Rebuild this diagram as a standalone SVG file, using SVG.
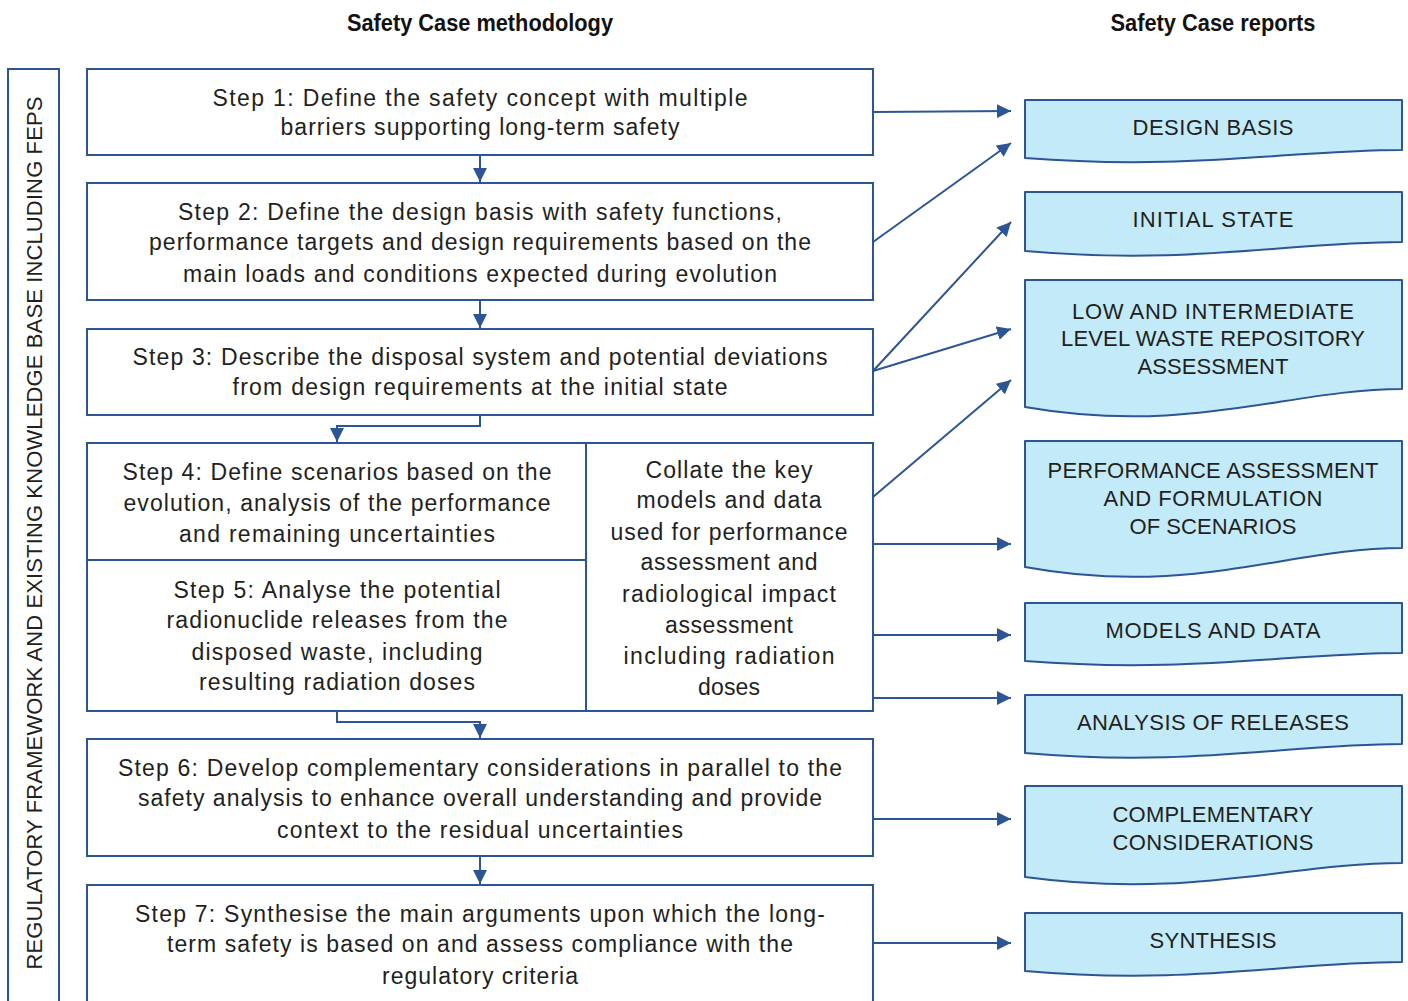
<svg xmlns="http://www.w3.org/2000/svg" width="1408" height="1001" viewBox="0 0 1408 1001">
  <defs>
    <style>
      .box { fill: #ffffff; stroke: #2c5595; stroke-width: 2; }
      .doc { fill: #c2eaf9; stroke: #2c5595; stroke-width: 2; stroke-linejoin: round; }
      .ln { fill: none; stroke: #2c5595; stroke-width: 2; }
      .arr { fill: none; stroke: #2c5595; stroke-width: 2; marker-end: url(#head); }
      .t { font-family: "Liberation Sans", Arial, sans-serif; font-size: 23px; fill: #231f20; text-anchor: middle; }
      .d { font-family: "Liberation Sans", Arial, sans-serif; font-size: 22px; fill: #231f20; text-anchor: middle; }
      .h { font-family: "Liberation Sans Narrow", "Liberation Sans", Arial, sans-serif; font-size: 23px; font-weight: bold; fill: #111111; text-anchor: middle; }
    </style>
    <marker id="head" viewBox="0 0 14 14" markerWidth="14" markerHeight="14" refX="14" refY="7" orient="auto" markerUnits="userSpaceOnUse">
      <path d="M0,0 L14,7 L0,14 z" fill="#2c5595"/>
    </marker>
  </defs>

  <rect width="1408" height="1001" fill="#ffffff"/>

  <!-- column headings -->
  <text class="h" x="480" y="31" textLength="266" lengthAdjust="spacingAndGlyphs">Safety Case methodology</text>
  <text class="h" x="1213" y="31" textLength="205" lengthAdjust="spacingAndGlyphs">Safety Case reports</text>

  <!-- framework bar along the left -->
  <g id="framework">
    <rect class="box" x="8" y="69" width="51" height="950"/>
    <text class="d" transform="translate(42,533) rotate(-90)" textLength="873" lengthAdjust="spacing">REGULATORY FRAMEWORK AND EXISTING KNOWLEDGE BASE INCLUDING FEPS</text>
  </g>

  <!-- methodology steps -->
  <g id="step1">
    <rect class="box" x="87" y="69" width="786" height="86"/>
    <text class="t" x="480" y="106" textLength="535" lengthAdjust="spacing">Step 1: Define the safety concept with multiple</text>
    <text class="t" x="480" y="135" textLength="399" lengthAdjust="spacing">barriers supporting long-term safety</text>
  </g>

  <g id="step2">
    <rect class="box" x="87" y="183" width="786" height="117"/>
    <text class="t" x="480" y="220" textLength="604" lengthAdjust="spacing">Step 2: Define the design basis with safety functions,</text>
    <text class="t" x="480" y="250" textLength="662" lengthAdjust="spacing">performance targets and design requirements based on the</text>
    <text class="t" x="480" y="282" textLength="594" lengthAdjust="spacing">main loads and conditions expected during evolution</text>
  </g>

  <g id="step3">
    <rect class="box" x="87" y="329" width="786" height="86"/>
    <text class="t" x="480" y="365" textLength="695" lengthAdjust="spacing">Step 3: Describe the disposal system and potential deviations</text>
    <text class="t" x="480" y="395" textLength="495" lengthAdjust="spacing">from design requirements at the initial state</text>
  </g>

  <g id="step4">
    <rect class="box" x="87" y="443" width="499" height="117"/>
    <text class="t" x="337" y="480" textLength="429" lengthAdjust="spacing">Step 4: Define scenarios based on the</text>
    <text class="t" x="337" y="511" textLength="427" lengthAdjust="spacing">evolution, analysis of the performance</text>
    <text class="t" x="337" y="542" textLength="316" lengthAdjust="spacing">and remaining uncertainties</text>
  </g>

  <g id="step5">
    <rect class="box" x="87" y="560" width="499" height="151"/>
    <text class="t" x="337" y="598" textLength="327" lengthAdjust="spacing">Step 5: Analyse the potential</text>
    <text class="t" x="337" y="628" textLength="341" lengthAdjust="spacing">radionuclide releases from the</text>
    <text class="t" x="337" y="660" textLength="291" lengthAdjust="spacing">disposed waste, including</text>
    <text class="t" x="337" y="690" textLength="276" lengthAdjust="spacing">resulting radiation doses</text>
  </g>

  <g id="collate">
    <rect class="box" x="586" y="443" width="287" height="268"/>
    <text class="t" x="729" y="478" textLength="167" lengthAdjust="spacing">Collate the key</text>
    <text class="t" x="729" y="508" textLength="185" lengthAdjust="spacing">models and data</text>
    <text class="t" x="729" y="540" textLength="237" lengthAdjust="spacing">used for performance</text>
    <text class="t" x="729" y="570" textLength="177" lengthAdjust="spacing">assessment and</text>
    <text class="t" x="729" y="602" textLength="214" lengthAdjust="spacing">radiological impact</text>
    <text class="t" x="729" y="633" textLength="128" lengthAdjust="spacing">assessment</text>
    <text class="t" x="729" y="664" textLength="211" lengthAdjust="spacing">including radiation</text>
    <text class="t" x="729" y="695" textLength="62" lengthAdjust="spacing">doses</text>
  </g>

  <g id="step6">
    <rect class="box" x="87" y="739" width="786" height="117"/>
    <text class="t" x="480" y="776" textLength="724" lengthAdjust="spacing">Step 6: Develop complementary considerations in parallel to the</text>
    <text class="t" x="480" y="806" textLength="684" lengthAdjust="spacing">safety analysis to enhance overall understanding and provide</text>
    <text class="t" x="480" y="838" textLength="406" lengthAdjust="spacing">context to the residual uncertainties</text>
  </g>

  <g id="step7">
    <rect class="box" x="87" y="885" width="786" height="130"/>
    <text class="t" x="480" y="922" textLength="690" lengthAdjust="spacing">Step 7: Synthesise the main arguments upon which the long-</text>
    <text class="t" x="480" y="952" textLength="626" lengthAdjust="spacing">term safety is based on and assess compliance with the</text>
    <text class="t" x="480" y="984" textLength="196" lengthAdjust="spacing">regulatory criteria</text>
  </g>

  <!-- report documents -->
  <g id="rep-design-basis">
    <path class="doc" d="M1025,100 H1402 V150 C1290,150 1190,170.8 1025,158 Z"/>
    <text class="d" x="1213" y="135" textLength="161" lengthAdjust="spacing">DESIGN BASIS</text>
  </g>
  <g id="rep-initial-state">
    <path class="doc" d="M1025,192 H1402 V242 C1290,242 1190,265.4 1025,251 Z"/>
    <text class="d" x="1213" y="227" textLength="161" lengthAdjust="spacing">INITIAL STATE</text>
  </g>
  <g id="rep-lilw">
    <path class="doc" d="M1025,280 H1402 V389 C1290,389 1190,435.8 1025,407 Z"/>
    <text class="d" x="1213" y="319" textLength="282" lengthAdjust="spacing">LOW AND INTERMEDIATE</text>
    <text class="d" x="1213" y="346" textLength="304" lengthAdjust="spacing">LEVEL WASTE REPOSITORY</text>
    <text class="d" x="1213" y="374" textLength="151" lengthAdjust="spacing">ASSESSMENT</text>
  </g>
  <g id="rep-performance">
    <path class="doc" d="M1025,441 H1402 V548 C1290,548 1190,597.4 1025,567 Z"/>
    <text class="d" x="1213" y="478" textLength="331" lengthAdjust="spacing">PERFORMANCE ASSESSMENT</text>
    <text class="d" x="1213" y="506" textLength="219" lengthAdjust="spacing">AND FORMULATION</text>
    <text class="d" x="1213" y="534" textLength="167" lengthAdjust="spacing">OF SCENARIOS</text>
  </g>
  <g id="rep-models">
    <path class="doc" d="M1025,603 H1402 V653 C1290,653 1190,673.8 1025,661 Z"/>
    <text class="d" x="1213" y="638" textLength="215" lengthAdjust="spacing">MODELS AND DATA</text>
  </g>
  <g id="rep-releases">
    <path class="doc" d="M1025,695 H1402 V744 C1290,744 1190,767.4 1025,753 Z"/>
    <text class="d" x="1213" y="730" textLength="272" lengthAdjust="spacing">ANALYSIS OF RELEASES</text>
  </g>
  <g id="rep-complementary">
    <path class="doc" d="M1025,786 H1402 V863 C1290,863 1190,899.4 1025,877 Z"/>
    <text class="d" x="1213" y="822" textLength="201" lengthAdjust="spacing">COMPLEMENTARY</text>
    <text class="d" x="1213" y="850" textLength="201" lengthAdjust="spacing">CONSIDERATIONS</text>
  </g>
  <g id="rep-synthesis">
    <path class="doc" d="M1025,913 H1402 V962 C1290,962 1190,985.4 1025,971 Z"/>
    <text class="d" x="1213" y="948" textLength="127" lengthAdjust="spacing">SYNTHESIS</text>
  </g>

  <!-- connectors -->
  <g id="connectors">
    <!-- step sequence -->
    <path class="arr" d="M480,155 V182"/>
    <path class="arr" d="M480,300 V328"/>
    <path class="arr" d="M480,415 V426 H337 V442"/>
    <path class="arr" d="M337,711 V722 H480 V738"/>
    <path class="arr" d="M480,856 V884"/>
    <!-- steps to reports -->
    <path class="arr" d="M873,112 L1011,111"/>
    <path class="arr" d="M873,242 L1011,143"/>
    <path class="arr" d="M873,371 L1011,222"/>
    <path class="arr" d="M873,371 L1011,329"/>
    <path class="arr" d="M873,497 L1011,380"/>
    <path class="arr" d="M873,544 H1011"/>
    <path class="arr" d="M873,635 H1011"/>
    <path class="arr" d="M873,698 H1011"/>
    <path class="arr" d="M873,819 H1011"/>
    <path class="arr" d="M873,943 H1011"/>
  </g>
</svg>
